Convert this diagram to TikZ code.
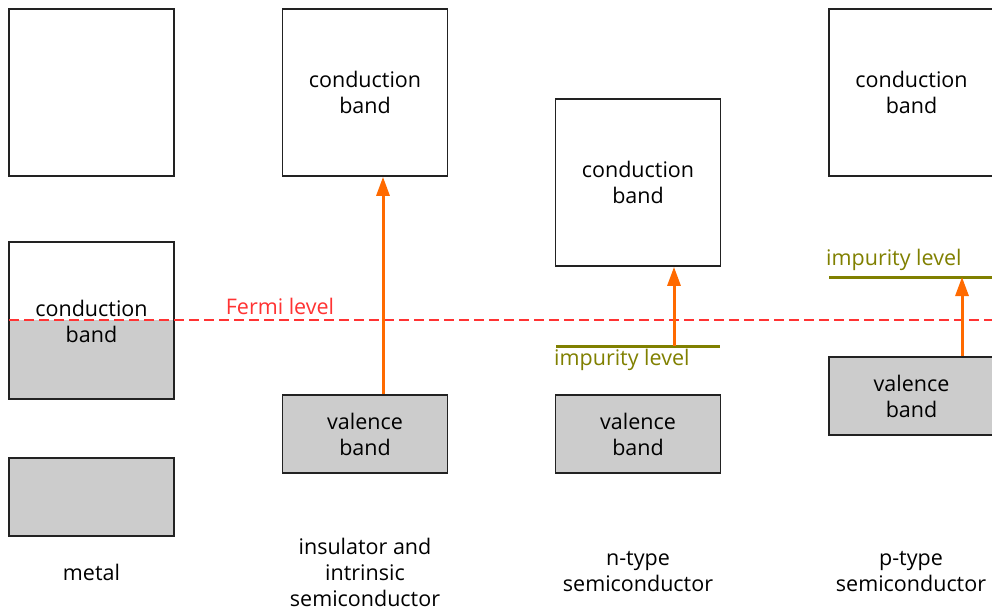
\documentclass[tikz,border=0pt]{standalone}
\usepackage{fontspec}
\setmainfont{Open Sans}
\usetikzlibrary{arrows.meta}
\definecolor{bandgray}{HTML}{CCCCCC}
\definecolor{edgec}{HTML}{222222}
\definecolor{arrowc}{HTML}{FF6A00}
\definecolor{fermic}{HTML}{FF3333}
\definecolor{impc}{HTML}{808000}
\begin{document}
\begin{tikzpicture}[x=1pt,y=-1pt,
  txt/.style={font=\fontsize{21.5}{26}\selectfont, align=center, text=black, inner sep=0pt},
  bandbox/.style={draw=edgec, line width=1.7pt, minimum width=165pt, inner sep=0pt, font=\fontsize{21.5}{26}\selectfont, align=center},
  cband/.style={bandbox, fill=white, minimum height=167pt},
  vband/.style={bandbox, fill=bandgray, minimum height=78pt},
  excite/.style={draw=arrowc, line width=3pt, -{Triangle[width=13pt,length=19pt]}},
  implevel/.style={draw=impc, line width=3pt},
  implabel/.style={font=\fontsize{21.5}{26}\selectfont, text=impc, inner sep=0pt},
  fermiline/.style={draw=fermic, line width=2.8pt, dash pattern=on 10pt off 5pt}
]
\useasboundingbox (0,0) rectangle (992,610);
% metal
\node[cband] (m1) at (91.5,92.5) {};
\fill[bandgray] (9,320) rectangle (174,399);
\node[bandbox, minimum height=157pt] (m2) at (91.5,320.5) {};
\node[txt] (m2t) at (91.5,321) {conduction\\band};
\node[vband] (m3) at (91.5,497) {};
\node[txt] (ml) at (91.5,572.5) {metal};
% insulator
\node[cband] (ic) at (365,92.5) {conduction\\band};
\node[vband] (iv) at (365,434) {valence\\band};
\node[txt] (il) at (365,572) {insulator and\\intrinsic\\semiconductor};
% n-type
\node[cband] (nc) at (638,182.5) {conduction\\band};
\node[vband] (nv) at (638,434) {valence\\band};
\coordinate (ni1) at (556,346);
\coordinate (ni2) at (720,346);
\node[implabel, anchor=north west] (nil) at (554,349) {impurity level};
\node[txt] (nl) at (638,571.5) {n-type\\semiconductor};
% p-type
\node[cband] (pc) at (911.5,92.5) {conduction\\band};
\node[vband] (pv) at (911.5,396) {valence\\band};
\coordinate (pi1) at (829,277);
\coordinate (pi2) at (995,277);
\node[implabel, anchor=south west] (pil) at (826,271) {impurity level};
\node[txt] (pl) at (911,571.5) {p-type\\semiconductor};
% Fermi level
\coordinate (f1) at (9,320);
\coordinate (f2) at (995,320);
\draw[fermiline] (f1) -- (f2);
\node[font=\fontsize{21.5}{26}\selectfont, text=fermic, inner sep=0pt] (fl) at (280,306) {Fermi level};
% impurity levels
\draw[implevel] (ni1) -- (ni2);
\draw[implevel] (pi1) -- (pi2);
% arrows
\coordinate (na) at (674,346);
\coordinate (pa) at (962,277);
\draw[excite] (iv.north -| 383,0) coordinate (ia) -- (ia |- ic.south);
\draw[excite] (na) -- (na |- nc.south);
\draw[excite] (pv.north -| 962,0) -- (pa);
\end{tikzpicture}
\end{document}
